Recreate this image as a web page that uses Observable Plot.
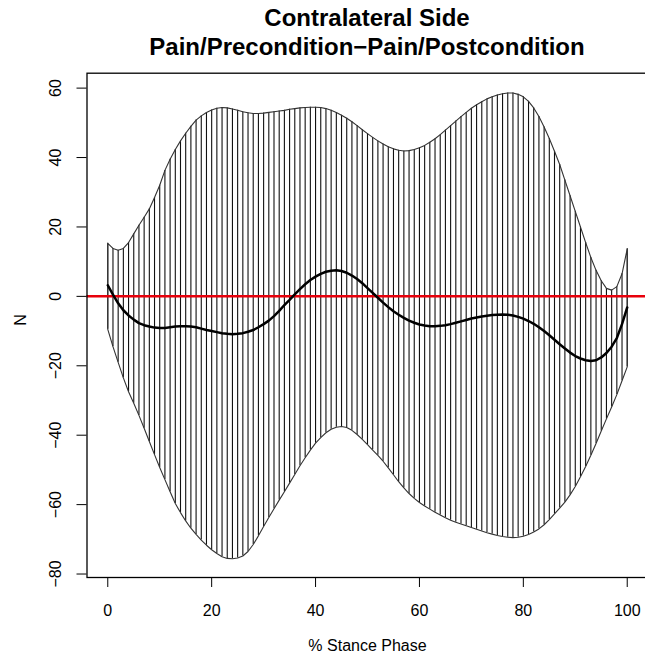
<!DOCTYPE html>
<html><head><meta charset="utf-8">
<script src="https://cdn.jsdelivr.net/npm/d3@7"></script>
<script src="https://cdn.jsdelivr.net/npm/@observablehq/plot@0.6"></script>
<style>
body{margin:0;background:#fff;overflow:hidden;font-family:"Liberation Sans",Arial,sans-serif;}
#title{height:64px;width:560px;margin-left:87px;text-align:center;font-weight:bold;font-size:24px;line-height:29px;padding-top:3px;box-sizing:border-box;color:#000;}
</style></head><body>
<div id="title">Contralateral Side<br>Pain/Precondition−Pain/Postcondition</div>
<div id="chart"></div>
<script>
const titleLines = ["Contralateral Side", "Pain/Precondition−Pain/Postcondition"];
const xLabel = "% Stance Phase";
const yLabel = "N";
const xTicks = [0, 20, 40, 60, 80, 100];
const yTicks = [-80, -60, -40, -20, 0, 20, 40, 60];
const referenceLine = 0;

// % stance phase, 0..100 in 1% steps
const stance = d3.range(0, 101);

const upper = [
15.3,13.8,13.3,13.8,15.5,18,20.5,22.8,25.2,28.5,
32,36.3,39.5,42.3,44.8,47,49,50.8,52,53,
53.7,54.2,54.4,54.3,54,53.6,53.2,52.9,52.7,52.7,
52.8,53,53.2,53.4,53.6,53.9,54.1,54.3,54.4,54.5,
54.5,54.4,54.1,53.6,53,52.2,51.3,50.3,49.2,48,
46.9,45.8,44.8,43.9,43.1,42.5,42.1,41.9,42,42.3,
42.8,43.5,44.4,45.4,46.6,47.9,49.2,50.5,51.8,53,
54.2,55.2,56.1,56.9,57.5,58,58.4,58.6,58.6,58.2,
57.5,56.2,54.3,51.8,48.8,45.5,41.8,38,33.5,29,
24.5,20,15.5,11.2,7.5,4.5,2.3,1.8,2.8,6.5,
13.7];

const lower = [
-9.5,-14.5,-19,-23.5,-27.5,-30.8,-34.3,-38,-41.8,-45.6,
-49.3,-52.8,-56.3,-59.7,-62.3,-64.7,-66.8,-68.6,-70.2,-71.7,
-73,-74.1,-75,-75.5,-75.6,-75.4,-74.8,-73.5,-71.5,-69,
-66.3,-63.7,-61.2,-58.7,-56.3,-53.8,-51.3,-48.8,-46.5,-44.3,
-42.3,-40.7,-39.3,-38.3,-37.7,-37.5,-37.8,-38.6,-39.8,-41.2,
-42.7,-44.3,-45.8,-47.5,-49.4,-51.4,-53.4,-55.2,-56.8,-58.2,
-59.4,-60.4,-61.3,-62.2,-63,-63.8,-64.5,-65.1,-65.6,-66.1,
-66.6,-67.1,-67.6,-68.1,-68.5,-68.9,-69.2,-69.4,-69.5,-69.4,
-69.1,-68.6,-67.9,-67,-65.8,-64.3,-62.7,-61,-59.3,-57.2,
-54.8,-52,-49,-45.8,-42.4,-38.8,-35.3,-31.9,-28.3,-24.3,
-20.3];

const mean = [
3.2,0.5,-2,-4,-5.5,-6.7,-7.7,-8.3,-8.7,-9,
-9.1,-9.1,-8.9,-8.7,-8.6,-8.6,-8.7,-8.9,-9.3,-9.7,
-10,-10.3,-10.6,-10.8,-10.9,-10.8,-10.6,-10.2,-9.7,-8.9,
-8,-7,-5.7,-4.2,-2.5,-1,0.6,2.1,3.5,4.7,
5.7,6.5,7.1,7.4,7.5,7.3,6.8,6,5,3.8,
2.4,1,-0.4,-1.8,-3.1,-4.3,-5.3,-6.2,-7,-7.6,
-8.1,-8.4,-8.6,-8.6,-8.5,-8.3,-8,-7.6,-7.2,-6.8,
-6.4,-6.1,-5.8,-5.6,-5.4,-5.3,-5.2,-5.3,-5.5,-5.9,
-6.4,-7.1,-7.9,-8.9,-10,-11.2,-12.5,-13.8,-15,-16.2,
-17.2,-17.9,-18.4,-18.6,-18.4,-17.6,-16.3,-14.5,-12,-8,
-3.2];

const rows = stance.map((s, i) => ({s, lo: lower[i], hi: upper[i], m: mean[i]}));
const polygon = rows.map(d => ({s: d.s, v: d.hi})).concat(rows.slice().reverse().map(d => ({s: d.s, v: d.lo})));
polygon.push(polygon[0]);

const font = "'Liberation Sans', Arial, sans-serif";

const chart = Plot.plot({
  width: 645,
  height: 595,
  marginLeft: 86.5,
  marginRight: -2.5,
  marginTop: 8.7,
  marginBottom: 82,
  style: {fontFamily: font, fontSize: "16px", color: "#000", background: "#fff", overflow: "hidden"},
  x: {domain: [-4, 104], axis: null},
  y: {domain: [-81, 64.3], axis: null},
  marks: [
    Plot.ruleX(rows, {x: "s", y1: "lo", y2: "hi", stroke: "#111", strokeWidth: 1.1}),
    Plot.line(polygon, {x: "s", y: "v", stroke: "#333", strokeWidth: 1.1, curve: "linear"}),
    Plot.ruleY([referenceLine], {stroke: "#e8000b", strokeWidth: 2.5}),
    Plot.line(rows, {x: "s", y: "m", stroke: "#000", strokeWidth: 2.5}),
    Plot.frame({stroke: "#000", strokeWidth: 1.3}),
    Plot.axisY(yTicks, {tickSize: 10, tickFormat: () => "", label: null, stroke: "#000"}),
    Plot.axisX(xTicks, {tickSize: 10, tickFormat: () => "", label: null, stroke: "#000"}),
    Plot.text(yTicks, {y: d => d, frameAnchor: "left", dx: -31, rotate: -90, text: d => String(d).replace("-", "\u2212"), fontSize: 16, fill: "#000", textAnchor: "middle", lineAnchor: "middle"}),
    Plot.text(xTicks, {x: d => d, frameAnchor: "bottom", dy: 33, text: d => String(d), fontSize: 16, fill: "#000", lineAnchor: "middle"}),
    Plot.text([xLabel], {frameAnchor: "bottom", dy: 68, x: 50, text: d => d, fontSize: 16, fill: "#000", lineAnchor: "middle"}),
    Plot.text([yLabel], {frameAnchor: "left", dx: -66, y: -8.5, rotate: -90, text: d => d, fontSize: 16, fill: "#000", lineAnchor: "middle"})
  ]
});
document.getElementById("chart").appendChild(chart);
</script>
</body></html>
